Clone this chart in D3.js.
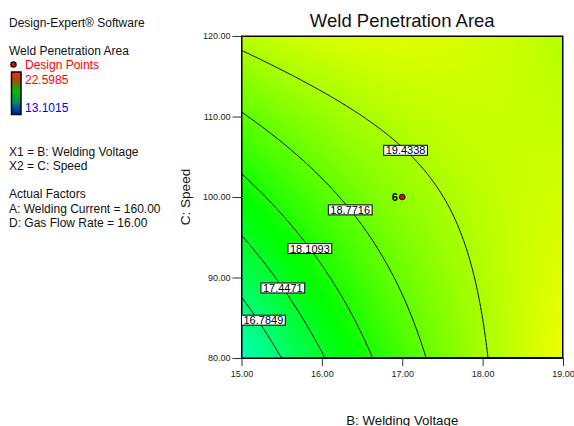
<!DOCTYPE html>
<html>
<head>
<meta charset="utf-8">
<script src="https://cdn.jsdelivr.net/npm/d3@7"></script>
<style>
  html, body { margin: 0; padding: 0; background: #fff; }
  svg { display: block; font-family: "Liberation Sans", Arial, sans-serif; }
</style>
</head>
<body>
<svg id="chart" width="574" height="426"></svg>
<script>
// fitted quadratic, coded units: x1 = (B - 17) / 2, x2 = (C - 100) / 20
const modelTerms = ["Intercept", "B", "C", "BC", "B^2", "C^2"];
const modelCoefs = [19.21, 0.972, 0.724, -1.006, -0.38, 0.0];

const voltageRange = [15, 19];
const speedRange = [80, 120];
const voltageTicks = [15, 16, 17, 18, 19];
const speedTicks = [80, 90, 100, 110, 120];

const contourLevels = [16.7849, 17.4471, 18.1093, 18.7716, 19.4338];
const labelSpeeds = [84.7, 88.7, 93.6, 98.4, 105.8];

const designVoltage = [17];
const designSpeed = [100];
const designCount = [6];

const responseMin = 13.1015;
const responseMax = 22.5985;

const infoLines = ["X1 = B: Welding Voltage", "X2 = C: Speed"];
const factorLines = ["Actual Factors", "A: Welding Current = 160.00", "D: Gas Flow Rate = 16.00"];

const d3 = window.d3;
const svg = d3.select("#chart");
const plot = { left: 241.5, right: 563, top: 36, bottom: 358 };

const x = d3.scaleLinear().domain(voltageRange).range([plot.left, plot.right]);
const y = d3.scaleLinear().domain(speedRange).range([plot.bottom, plot.top]);

function predict(B, C) {
  const bc = (voltageRange[0] + voltageRange[1]) / 2, bh = (voltageRange[1] - voltageRange[0]) / 2;
  const cc = (speedRange[0] + speedRange[1]) / 2, ch = (speedRange[1] - speedRange[0]) / 2;
  const x1 = (B - bc) / bh, x2 = (C - cc) / ch;
  const [b0, b1, b2, b12, b11, b22] = modelCoefs;
  return b0 + b1 * x1 + b2 * x2 + b12 * x1 * x2 + b11 * x1 * x1 + b22 * x2 * x2;
}

function colorOf(v) {
  const t = Math.max(0, Math.min(1, (v - responseMin) / (responseMax - responseMin)));
  return d3.hsl(240 * (1 - t), 1, 0.5).toString();
}

// grid over the plot
const n = 240, m = 240;
const dB = (voltageRange[1] - voltageRange[0]) / n;
const dC = (speedRange[1] - speedRange[0]) / m;
const values = new Array(n * m);
for (let j = 0; j < m; j++) {
  for (let i = 0; i < n; i++) {
    values[j * n + i] = predict(voltageRange[0] + (i + 0.5) * dB, speedRange[1] - (j + 0.5) * dC);
  }
}

const path = d3.geoPath(d3.geoTransform({
  point(gx, gy) {
    this.stream.point(x(voltageRange[0] + gx * dB), y(speedRange[1] - gy * dC));
  }
}));

svg.append("defs").append("clipPath").attr("id", "clip")
  .append("rect")
  .attr("x", plot.left).attr("y", plot.top)
  .attr("width", plot.right - plot.left).attr("height", plot.bottom - plot.top);

const [vmin, vmax] = d3.extent(values);
const step = 0.02;
const fillThresholds = d3.range(Math.floor(vmin * 10) / 10 - step, vmax + step, step);

const fillG = svg.append("g").attr("clip-path", "url(#clip)");
fillG.selectAll("path")
  .data(d3.contours().size([n, m]).thresholds(fillThresholds)(values))
  .join("path")
  .attr("d", path)
  .attr("fill", (d) => colorOf(d.value + step / 2))
  .attr("stroke", (d) => colorOf(d.value + step / 2))
  .attr("stroke-width", 0.6);

// contour lines
const lineG = svg.append("g").attr("clip-path", "url(#clip)");
lineG.selectAll("path")
  .data(d3.contours().size([n, m]).thresholds(contourLevels)(values))
  .join("path")
  .attr("d", path)
  .attr("fill", "none")
  .attr("stroke", "#000")
  .attr("stroke-width", 1);

// frame
svg.append("rect")
  .attr("x", plot.left).attr("y", plot.top)
  .attr("width", plot.right - plot.left).attr("height", plot.bottom - plot.top)
  .attr("fill", "none").attr("stroke", "#000").attr("stroke-width", 1);

// axes
const fmt = d3.format(".2f");
const yAxis = svg.append("g")
  .attr("transform", `translate(${plot.left},0)`)
  .call(d3.axisLeft(y).tickValues(speedTicks).tickFormat(fmt).tickSize(9).tickPadding(2).tickSizeOuter(0));
const xAxis = svg.append("g")
  .attr("transform", `translate(0,${plot.bottom})`)
  .call(d3.axisBottom(x).tickValues(voltageTicks).tickFormat(fmt).tickSize(8).tickPadding(5).tickSizeOuter(0));
[xAxis, yAxis].forEach((a) => {
  a.selectAll("text").attr("font-size", 9).attr("fill", "#222").attr("font-family", "Liberation Sans, Arial, sans-serif");
  a.selectAll(".tick line").attr("stroke", "#333");
  a.select(".domain").attr("stroke", "#000");
});

// contour labels
function solveVoltage(level, C) {
  let lo = voltageRange[0], hi = voltageRange[1];
  const flo = predict(lo, C) - level;
  for (let k = 0; k < 50; k++) {
    const mid = (lo + hi) / 2;
    const fm = predict(mid, C) - level;
    if ((fm > 0) === (flo > 0)) lo = mid; else hi = mid;
  }
  return (lo + hi) / 2;
}

const labelG = svg.append("g");
contourLevels.forEach((lev, k) => {
  const C = labelSpeeds[k];
  const g = labelG.append("g");
  const t = g.append("text")
    .attr("font-size", 11)
    .attr("fill", "#000")
    .attr("text-anchor", "middle")
    .text(lev.toFixed(4));
  const w = t.node().getComputedTextLength() + 4;
  let cx = x(solveVoltage(lev, C));
  cx = Math.max(plot.left + w / 2, Math.min(plot.right - w / 2, cx));
  const cy = y(C);
  g.insert("rect", "text")
    .attr("x", cx - w / 2).attr("y", cy - 5)
    .attr("width", w).attr("height", 10)
    .attr("fill", "#fff").attr("stroke", "#000").attr("stroke-width", 1);
  t.attr("x", cx).attr("y", cy + 4);
});

// design points
designVoltage.forEach((B, k) => {
  const cx = x(B), cy = y(designSpeed[k]);
  svg.append("circle")
    .attr("cx", cx).attr("cy", cy).attr("r", 2.8)
    .attr("fill", "#ff0000").attr("stroke", "#000").attr("stroke-width", 1);
  svg.append("text")
    .attr("x", cx - 4.5).attr("y", cy + 4)
    .attr("text-anchor", "end")
    .attr("font-size", 11).attr("font-weight", "bold")
    .text(designCount[k]);
});

// titles
svg.append("text")
  .attr("x", (plot.left + plot.right) / 2).attr("y", 26.5)
  .attr("text-anchor", "middle").attr("font-size", 18.5).attr("fill", "#111")
  .text("Weld Penetration Area");
svg.append("text")
  .attr("x", (plot.left + plot.right) / 2).attr("y", 424.5)
  .attr("text-anchor", "middle").attr("font-size", 13.3).attr("fill", "#111")
  .text("B: Welding Voltage");
svg.append("text")
  .attr("transform", `translate(190,${(plot.top + plot.bottom) / 2}) rotate(-90)`)
  .attr("text-anchor", "middle").attr("font-size", 13.5).attr("fill", "#111")
  .text("C: Speed");

// left info panel
const info = svg.append("g").attr("font-size", 12).attr("fill", "#111");
info.append("text").attr("x", 9).attr("y", 26.5).text("Design-Expert\u00ae Software");
info.append("text").attr("x", 9).attr("y", 55).text("Weld Penetration Area");
info.append("text").attr("x", 25).attr("y", 69.3).attr("fill", "#ff0000").text("Design Points");
info.append("text").attr("x", 25).attr("y", 84).attr("fill", "#ff0000").text(responseMax.toFixed(4));
info.append("text").attr("x", 25).attr("y", 112.3).attr("fill", "#0000ff").text(responseMin.toFixed(4));
infoLines.forEach((s, i) => info.append("text").attr("x", 9).attr("y", 156 + i * 14).text(s));
factorLines.forEach((s, i) => info.append("text").attr("x", 9).attr("y", 198.3 + i * 14.2).text(s));

svg.append("circle")
  .attr("cx", 13.5).attr("cy", 64.5).attr("r", 2.6)
  .attr("fill", "#ff0000").attr("stroke", "#000").attr("stroke-width", 1.2);

const grad = svg.select("defs").append("linearGradient")
  .attr("id", "legendGrad").attr("x1", 0).attr("y1", 0).attr("x2", 0).attr("y2", 1);
[[0, "#ff2a00"], [0.2, "#a05000"], [0.45, "#00c000"], [0.7, "#009060"], [1, "#0010c0"]]
  .forEach(([o, c]) => grad.append("stop").attr("offset", o).attr("stop-color", c));
svg.append("rect")
  .attr("x", 11.5).attr("y", 72).attr("width", 9.5).attr("height", 42.5)
  .attr("fill", "url(#legendGrad)").attr("stroke", "#000").attr("stroke-width", 1.5);
</script>
</body>
</html>
